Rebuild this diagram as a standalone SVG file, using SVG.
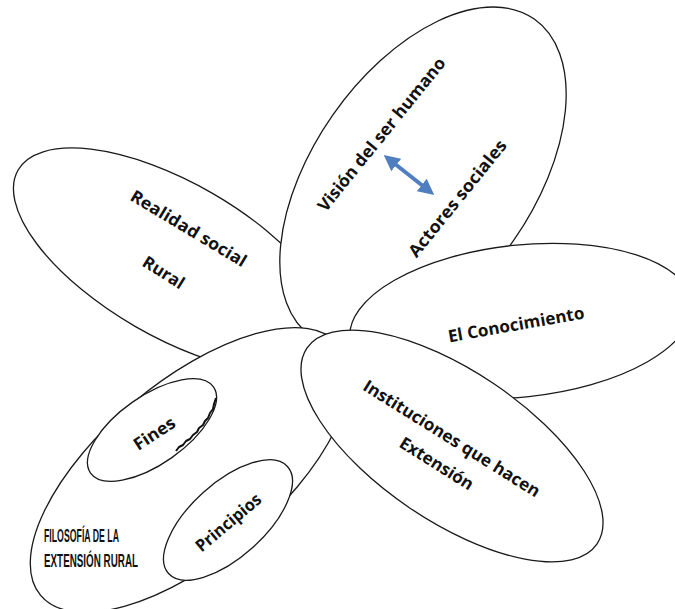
<svg xmlns="http://www.w3.org/2000/svg" width="675" height="609" viewBox="0 0 675 609">
  <defs>
    <style>
      .petal { fill: #ffffff; stroke: #1a1a1a; stroke-width: 1.3; }
      .lbl { font-family: "Open Sans", "Liberation Sans", sans-serif; font-weight: 700; font-size: 17px; fill: #111111; text-anchor: middle; dominant-baseline: central; }
      .fil { font-family: "Liberation Sans", "DejaVu Sans", sans-serif; font-weight: 700; font-size: 19px; fill: #111111; }
      .arrow { stroke: #4f7fbf; stroke-width: 4; fill: none; }
      .rough { fill: none; stroke: #111111; stroke-width: 2; stroke-linejoin: round; }
    </style>
    <marker id="ah" viewBox="0 0 10 10" refX="5" refY="5" markerWidth="4" markerHeight="4" orient="auto-start-reverse">
      <path d="M0,0 L10,5 L0,10 z" fill="#4f7fbf"/>
    </marker>
  </defs>
  <rect width="675" height="609" fill="#ffffff"/>

  <g id="realidad">
    <ellipse class="petal" cx="174" cy="260" rx="180" ry="77" transform="rotate(30 174 260)"/>
    <text class="lbl" x="189" y="228" textLength="132" lengthAdjust="spacingAndGlyphs" transform="rotate(31 189 228)">Realidad social</text>
    <text class="lbl" x="164" y="272" textLength="46" lengthAdjust="spacingAndGlyphs" transform="rotate(32 164 272)">Rural</text>
  </g>

  <g id="vision">
    <ellipse class="petal" cx="423" cy="178" rx="194" ry="110" transform="rotate(-55 423 178)"/>
    <text class="lbl" x="381" y="134" textLength="192" lengthAdjust="spacingAndGlyphs" transform="rotate(-51 381 134)">Visión del ser humano</text>
    <text class="lbl" x="457" y="198" textLength="145" lengthAdjust="spacingAndGlyphs" transform="rotate(-51 457 198)">Actores sociales</text>
  </g>

  <g id="conocimiento">
    <ellipse class="petal" cx="521" cy="321" rx="172" ry="76" transform="rotate(-6 521 321)"/>
    <text class="lbl" x="516" y="324" textLength="138" lengthAdjust="spacingAndGlyphs" transform="rotate(-10 516 324)">El Conocimiento</text>
  </g>

  <g id="filosofia">
    <ellipse class="petal" cx="190" cy="470" rx="195" ry="88" transform="rotate(-40 190 470)"/>
    <text class="fil" x="44" y="542" textLength="75" lengthAdjust="spacingAndGlyphs">FILOSOFÍA DE LA</text>
    <text class="fil" x="44" y="567" textLength="94" lengthAdjust="spacingAndGlyphs">EXTENSIÓN RURAL</text>
  </g>

  <g id="fines">
    <ellipse class="petal" cx="152" cy="430" rx="75" ry="34" transform="rotate(-35 152 430)"/>
    <path class="rough" d="M216,398 L214,404 L213,409 L210,413 L208,418 L205,421 L203,425 L199,428 L197,432 L193,435 L190,439 L186,441 L183,445 L179,447 L176,451"/>
    <text class="lbl" x="154" y="433" textLength="46" lengthAdjust="spacingAndGlyphs" transform="rotate(-33 154 433)">Fines</text>
  </g>

  <g id="principios">
    <ellipse class="petal" cx="228" cy="520" rx="80" ry="37" transform="rotate(-42 228 520)"/>
    <text class="lbl" x="228" y="522" textLength="80" lengthAdjust="spacingAndGlyphs" transform="rotate(-40 228 522)">Principios</text>
  </g>

  <g id="instituciones">
    <ellipse class="petal" cx="452" cy="446" rx="175" ry="75" transform="rotate(34 452 446)"/>
    <text class="lbl" x="452" y="438" textLength="205" lengthAdjust="spacingAndGlyphs" transform="rotate(32 452 438)">Instituciones que hacen</text>
    <text class="lbl" x="437" y="463" textLength="84" lengthAdjust="spacingAndGlyphs" transform="rotate(32 437 463)">Extensión</text>
  </g>

  <g id="connectors">
    <line class="arrow" x1="390" y1="160" x2="428" y2="190" marker-start="url(#ah)" marker-end="url(#ah)"/>
  </g>
</svg>
